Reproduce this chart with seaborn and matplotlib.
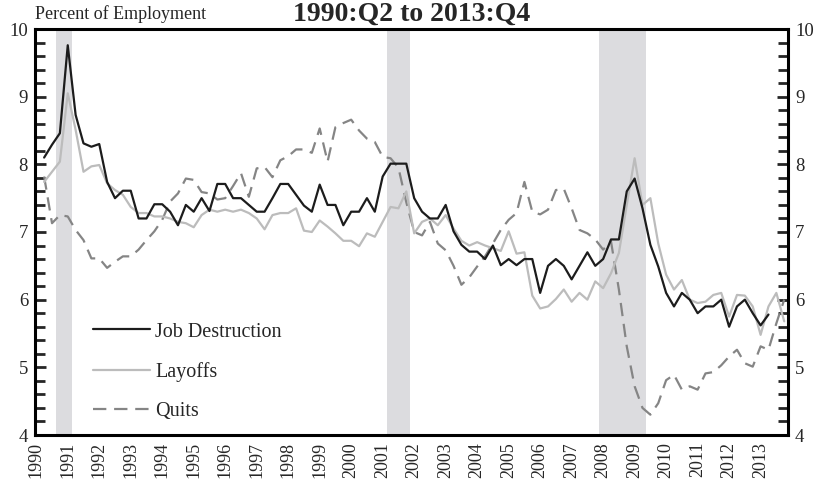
import matplotlib as mpl
import matplotlib.pyplot as plt
import numpy as np
import pandas as pd
import seaborn as sns

# quarterly series, percent of employment
job_destruction = [
    8.10, 8.29, 8.46,
    9.76, 8.73, 8.31, 8.26,
    8.30, 7.74, 7.50, 7.61,
    7.61, 7.20, 7.20, 7.41,
    7.41, 7.30, 7.10, 7.40,
    7.30, 7.50, 7.31, 7.71,
    7.71, 7.50, 7.50, 7.40,
    7.30, 7.30, 7.50, 7.71,
    7.71, 7.55, 7.39, 7.30,
    7.70, 7.40, 7.40, 7.10,
    7.30, 7.30, 7.50, 7.30,
    7.82, 8.01, 8.01, 8.01,
    7.50, 7.30, 7.20, 7.20,
    7.40, 7.01, 6.81, 6.71,
    6.71, 6.60, 6.80, 6.51,
    6.60, 6.51, 6.60, 6.60,
    6.10, 6.50, 6.60, 6.50,
    6.30, 6.50, 6.70, 6.50,
    6.60, 6.89, 6.89, 7.60,
    7.79, 7.35, 6.81, 6.49,
    6.10, 5.90, 6.10, 6.00,
    5.80, 5.90, 5.90, 6.00,
    5.60, 5.90, 6.00, 5.80,
    5.62, 5.78,
]
layoffs = [
    7.74, 7.89, 8.04,
    9.05, 8.51, 7.89, 7.97,
    7.99, 7.72, 7.62, 7.55,
    7.37, 7.28, 7.28, 7.23,
    7.23, 7.20, 7.15, 7.13,
    7.07, 7.25, 7.33, 7.30,
    7.33, 7.30, 7.33, 7.28,
    7.20, 7.04, 7.25, 7.28,
    7.28, 7.35, 7.02, 7.00,
    7.17, 7.08, 6.98, 6.87,
    6.87, 6.79, 6.98, 6.93,
    7.15, 7.37, 7.35, 7.60,
    6.98, 7.15, 7.20, 7.10,
    7.25, 7.05, 6.87, 6.80,
    6.85, 6.80, 6.76, 6.72,
    7.01, 6.68, 6.70, 6.06,
    5.87, 5.90, 6.01, 6.15,
    5.97, 6.10, 6.00, 6.27,
    6.17, 6.39, 6.69, 7.40,
    8.09, 7.40, 7.50, 6.83,
    6.37, 6.15, 6.29, 6.00,
    5.95, 5.97, 6.07, 6.10,
    5.75, 6.07, 6.06, 5.90,
    5.48, 5.90, 6.10, 5.68,
]
quits = [
    7.82, 7.13, 7.25,
    7.23, 7.03, 6.88, 6.61,
    6.61, 6.47, 6.56, 6.64,
    6.64, 6.74, 6.88, 7.01,
    7.18, 7.45, 7.57, 7.79,
    7.77, 7.59, 7.57, 7.48,
    7.50, 7.68, 7.87, 7.52,
    7.94, 7.96, 7.81, 8.06,
    8.12, 8.22, 8.22, 8.17,
    8.53, 8.04, 8.55, 8.61,
    8.66, 8.50, 8.38, 8.33,
    8.11, 8.09, 7.95, 7.44,
    7.00, 6.95, 7.15, 6.83,
    6.73, 6.50, 6.22, 6.33,
    6.49, 6.64, 6.83, 7.03,
    7.18, 7.28, 7.74, 7.30,
    7.26, 7.33, 7.62, 7.64,
    7.35, 7.03, 6.98, 6.89,
    6.74, 6.86, 6.15, 5.31,
    4.72, 4.40, 4.30, 4.47,
    4.81, 4.89, 4.67, 4.72,
    4.67, 4.91, 4.93, 5.03,
    5.16, 5.26, 5.06, 5.01,
    5.31, 5.26, 5.65, 6.00,
]
recessions = [(1990.625, 1991.125), (2001.125, 2001.875), (2007.875, 2009.375)]
years = list(range(1990, 2014))

quarters = pd.period_range("1990Q2", "2013Q4", freq="Q")
t = quarters.year + (quarters.quarter - 1) / 4

frames = []
for name, vals in [("Job Destruction", job_destruction), ("Layoffs", layoffs), ("Quits", quits)]:
    frames.append(pd.DataFrame({"t": t[: len(vals)], "value": vals, "series": name}))
df = pd.concat(frames, ignore_index=True)

sns.set_style("white")
plt.rcParams["font.family"] = ["Liberation Serif", "DejaVu Serif"]

fig = plt.figure(figsize=(8.19, 4.80), dpi=100)
ax = fig.add_axes([35 / 819, 45 / 480, 753 / 819, 406 / 480])

for a, b in recessions:
    ax.axvspan(a, b, color="#dcdcdf", lw=0, zorder=0)

styles = {
    "Job Destruction": dict(color="#1c1c1c", linestyle="-"),
    "Layoffs": dict(color="#bcbcbc", linestyle="-"),
    "Quits": dict(color="#858585", linestyle=(0, (6, 3.5))),
}
for name in ["Quits", "Layoffs", "Job Destruction"]:
    sns.lineplot(data=df[df.series == name], x="t", y="value", ax=ax,
                 lw=1.6, label=name, **styles[name])

ax.set_xlim(1989.96, 2013.87)
ax.set_ylim(4, 10)
ax.set_xlabel("")
ax.set_ylabel("")

ax.xaxis.set_major_locator(mpl.ticker.FixedLocator(years))
ax.xaxis.set_minor_locator(mpl.ticker.MultipleLocator(0.25))
ax.set_xticklabels([str(y) for y in years], rotation=90, fontsize=13)
ax.yaxis.set_major_locator(mpl.ticker.MultipleLocator(1))
ax.yaxis.set_minor_locator(mpl.ticker.MultipleLocator(0.2))
ax.tick_params(axis="x", which="both", direction="in", length=5, width=1.6, pad=5)
ax.tick_params(axis="y", which="major", direction="in", length=8, width=2,
               left=True, right=True, labelright=True, labelsize=13.5, pad=5)
ax.tick_params(axis="y", which="minor", direction="in", length=7, width=2,
               left=True, right=True)

for s in ax.spines.values():
    s.set_visible(True)
    s.set_linewidth(2.2)
    s.set_color("black")

h, l = ax.get_legend_handles_labels()
order = [l.index("Job Destruction"), l.index("Layoffs"), l.index("Quits")]
ax.legend([h[i] for i in order], [l[i] for i in order], loc="lower left",
          bbox_to_anchor=(0.077, 0.035), frameon=False, fontsize=14.5,
          borderpad=0, borderaxespad=0,
          handlelength=2.85, handletextpad=0.25, labelspacing=1.0)

fig.text(35 / 819, 1 - 19 / 480, "Percent of Employment", fontsize=13, va="baseline")
fig.text(0.503, 1 - 21 / 480, "1990:Q2 to 2013:Q4", fontsize=20, fontweight="bold",
         ha="center", va="baseline")

fig.savefig("out.png", dpi=100)
